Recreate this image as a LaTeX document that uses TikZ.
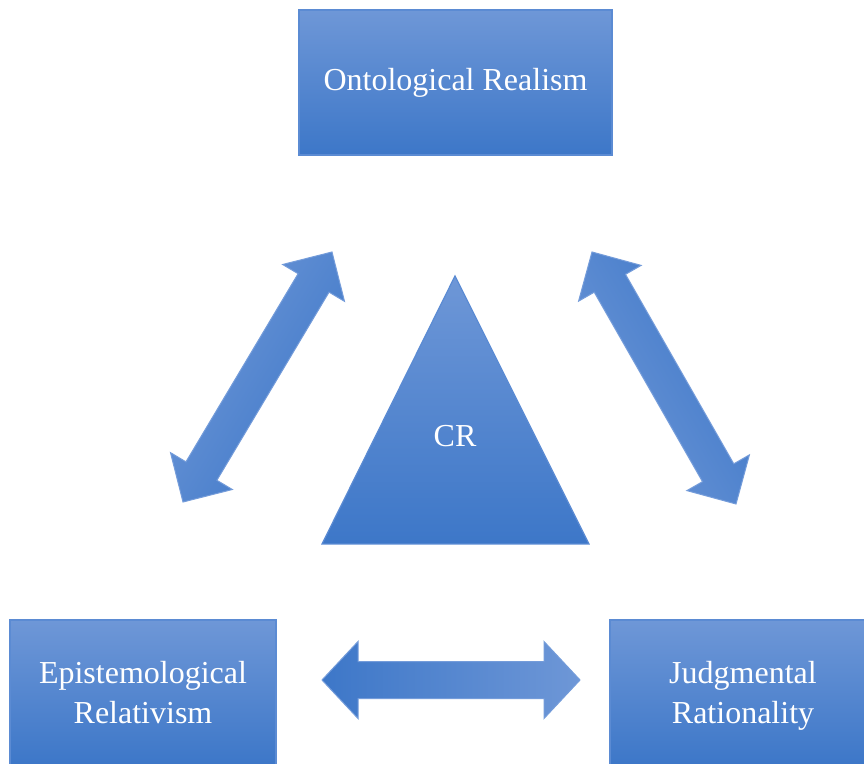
\documentclass[tikz,border=0pt]{standalone}
\usepackage{fontspec}
\setmainfont{Liberation Serif}
\usetikzlibrary{calc}
\definecolor{lt}{HTML}{6E97D7}
\definecolor{md}{HTML}{4A83D2}
\definecolor{dk}{HTML}{3D77C8}
\definecolor{edge}{HTML}{5B8BD3}
\tikzset{
  box/.style={draw=edge, line width=1.5pt, top color=lt, bottom color=dk,
    text=white, font=\fontsize{32}{40}\selectfont, align=center, inner sep=0pt},
  arrowshape/.style={draw=edge!85!white, line width=1pt},
  lbl/.style={text=white, font=\fontsize{32}{40}\selectfont, align=center}
}
% #1 start tip, #2 end tip, #3 half head width, #4 half shaft width, #5 options
\newcommand{\dblarrow}[5]{%
  \path ($(#1)!36pt!(#2)$) coordinate (ha) ($(#2)!36pt!(#1)$) coordinate (hb);
  \path[arrowshape,#5] (#1) -- ($(ha)!#3!90:(#2)$) -- ($(ha)!#4!90:(#2)$)
    -- ($(hb)!#4!-90:(#1)$) -- ($(hb)!#3!-90:(#1)$) -- (#2)
    -- ($(hb)!#3!90:(#1)$) -- ($(hb)!#4!90:(#1)$)
    -- ($(ha)!#4!-90:(#2)$) -- ($(ha)!#3!-90:(#2)$) -- cycle;}
\begin{document}
\begin{tikzpicture}[x=1pt,y=1pt]
\clip (0,0) rectangle (864,763);
\fill[white] (0,0) rectangle (864,763);
% boxes
\node[box, minimum width=313pt, minimum height=145pt] (onto) at (455.5,680.5) {Ontological Realism};
\node[box, minimum width=266pt, minimum height=145pt] (epi) at (143,70.5) {Epistemological\\Relativism};
\node[box, minimum width=266pt, minimum height=145pt, text depth=0pt] (jud) at (743,70.5) {Judgmental\\Rationality};
% triangle
\coordinate (tA) at (455,487);
\coordinate (tL) at (322,219);
\coordinate (tR) at (589,219);
\path[draw=edge, line width=1.2pt, top color=lt, bottom color=dk] (tA) -- (tR) -- (tL) -- cycle;
\node[lbl] (cr) at (455,327) {CR};
% arrow end points
\coordinate (l1) at (183,261);
\coordinate (l2) at (332,511);
\coordinate (r1) at (736,259);
\coordinate (r2) at (592,511);
\coordinate (b1) at (322,83);
\coordinate (b2) at (580,83);
\dblarrow{l1}{l2}{36pt}{18pt}{top color=lt, middle color=md, bottom color=dk, shading angle=59.2}
\dblarrow{r1}{r2}{36pt}{18pt}{top color=lt, middle color=md, bottom color=dk, shading angle=119.7}
\dblarrow{b1}{b2}{38.5pt}{18.5pt}{left color=dk, right color=lt}
\end{tikzpicture}
\end{document}
